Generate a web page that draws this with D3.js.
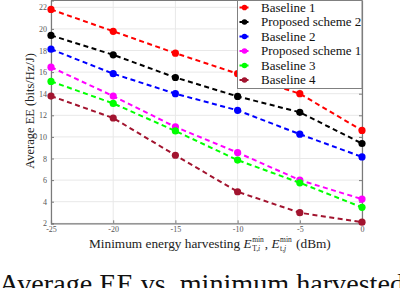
<!DOCTYPE html>
<html>
<head>
<meta charset="utf-8">
<script src="https://cdn.jsdelivr.net/npm/d3@7"></script>
<style>
  body { margin: 0; background: #fff; }
  svg { display: block; font-family: "Liberation Serif", serif; }
  text { white-space: pre; }
</style>
</head>
<body>
<script>
const xValues = [-25, -20, -15, -10, -5, 0];
const xTicks = [-25, -20, -15, -10, -5, 0];
const yTicks = [2, 4, 6, 8, 10, 12, 14, 16, 18, 20, 22];

const seriesNames = ['Baseline 1', 'Proposed scheme 2', 'Baseline 2', 'Proposed scheme 1', 'Baseline 3', 'Baseline 4'];
const seriesColors = ['#ff0000', '#000000', '#0000ff', '#ff00ff', '#00ff00', '#a2142f'];
const baseline1 = [21.8, 19.78, 17.75, 15.85, 14.0, 10.6];
const proposed2 = [19.4, 17.6, 15.5, 13.75, 12.28, 9.39];
const baseline2 = [18.12, 15.85, 14.0, 12.46, 10.25, 8.15];
const proposed1 = [16.46, 13.78, 10.92, 8.55, 6.0, 4.24];
const baseline3 = [15.14, 13.1, 10.55, 7.85, 5.75, 3.48];
const baseline4 = [13.78, 11.75, 8.3, 4.92, 2.98, 2.1];
const seriesValues = [baseline1, proposed2, baseline2, proposed1, baseline3, baseline4];

const w = 400, h = 288;
const mLeft = 51, mRight = 362, mTop = 0.5, mBottom = 223.3;

const svg = d3.select('body').append('svg').attr('width', w).attr('height', h);

const x = d3.scaleLinear().domain([-25, 0]).range([mLeft, mRight]);
const y = d3.scaleLinear().domain([2, 22.63]).range([mBottom, mTop]);

// grid
svg.append('g').selectAll('line').data(yTicks).enter().append('line')
  .attr('x1', mLeft).attr('x2', mRight)
  .attr('y1', d => y(d)).attr('y2', d => y(d))
  .attr('stroke', '#e8e8e8').attr('stroke-width', 1);
svg.append('g').selectAll('line').data(xTicks).enter().append('line')
  .attr('y1', mTop).attr('y2', mBottom)
  .attr('x1', d => x(d)).attr('x2', d => x(d))
  .attr('stroke', '#e8e8e8').attr('stroke-width', 1);

// axes
const axisColor = '#7a7a7a';
const yAxis = svg.append('g').attr('transform', `translate(${mLeft},0)`)
  .call(d3.axisLeft(y).tickValues(yTicks).tickSize(-3).tickPadding(4));
const yAxisR = svg.append('g').attr('transform', `translate(${mRight},0)`)
  .call(d3.axisRight(y).tickValues(yTicks).tickSize(-3).tickFormat(''));
const xAxis = svg.append('g').attr('transform', `translate(0,${mBottom})`)
  .call(d3.axisBottom(x).tickValues(xTicks).tickSize(-3).tickPadding(3.5));
svg.append('line').attr('x1', mLeft).attr('x2', mRight).attr('y1', mTop).attr('y2', mTop)
  .attr('stroke', axisColor);

[yAxis, yAxisR, xAxis].forEach(g => {
  g.select('.domain').attr('stroke', axisColor).attr('stroke-width', 1.2);
  g.selectAll('.tick line').attr('stroke', axisColor);
  g.selectAll('.tick text').attr('fill', '#555').style('font-family', '"Liberation Serif", serif').style('font-size', '8px');
});
xAxis.selectAll('.tick text').text(d => d === 0 ? '0' : '-' + Math.abs(d));

// series
const line = d3.line().x((d, i) => x(xValues[i])).y(d => y(d));
seriesValues.forEach((vals, k) => {
  svg.append('path').datum(vals)
    .attr('d', line)
    .attr('fill', 'none')
    .attr('stroke', seriesColors[k])
    .attr('stroke-width', 2)
    .attr('stroke-dasharray', '5,3.5');
  svg.append('g').selectAll('circle').data(vals).enter().append('circle')
    .attr('cx', (d, i) => x(xValues[i]))
    .attr('cy', d => y(d))
    .attr('r', 3.6)
    .attr('fill', seriesColors[k]);
});

// legend
const lg = svg.append('g');
lg.append('rect').attr('x', 237.5).attr('y', 0.5).attr('width', 124.5).attr('height', 88)
  .attr('fill', '#fff').attr('stroke', '#808080').attr('stroke-width', 1);
seriesNames.forEach((name, k) => {
  const yy = 7.5 + k * 14.5;
  lg.append('line').attr('x1', 239.5).attr('x2', 249.5).attr('y1', yy).attr('y2', yy)
    .attr('stroke', seriesColors[k]).attr('stroke-width', 2).attr('stroke-dasharray', '3.5,2');
  lg.append('circle').attr('cx', 244.5).attr('cy', yy).attr('r', 2.8).attr('fill', seriesColors[k]);
  lg.append('text').attr('x', 261).attr('y', yy + 4.3).text(name)
    .style('font-size', '13px').attr('fill', '#111');
});

// y label
svg.append('text')
  .attr('transform', 'translate(34,111) rotate(-90)')
  .attr('text-anchor', 'middle')
  .style('font-size', '12.5px').attr('fill', '#222')
  .text('Average EE (bits/Hz/J)');

// x label with math
const xl = svg.append('g').attr('fill', '#222');
let cx = 89;
const base = 247.5;
function piece(txt, size, dy, italic) {
  const t = xl.append('text').attr('x', cx).attr('y', base + dy)
    .style('font-size', size + 'px').style('font-style', italic ? 'italic' : 'normal').text(txt);
  return t.node().getComputedTextLength();
}
cx += piece('Minimum energy harvesting ', 13.3, 0, false);
cx += piece('E', 13.3, 0, true) + 0.5;
let sw = piece('min', 7.5, -5.5, false);
let bw = piece('T,', 7.5, 3.5, false);
let iw = xl.append('text').attr('x', cx + bw).attr('y', base + 3.5)
  .style('font-size', '7.5px').style('font-style', 'italic').text('i').node().getComputedTextLength();
cx += Math.max(sw, bw + iw) + 1;
cx += piece(', ', 13.3, 0, false);
cx += piece('E', 13.3, 0, true) + 0.5;
sw = piece('min', 7.5, -5.5, false);
bw = piece('t,', 7.5, 3.5, false);
const jw = xl.append('text').attr('x', cx + bw).attr('y', base + 3.5)
  .style('font-size', '7.5px').style('font-style', 'italic').text('j').node().getComputedTextLength();
cx += Math.max(sw, bw + jw) + 1;
piece(' (dBm)', 13.3, 0, false);

// caption
svg.append('text').attr('x', -1).attr('y', 293)
  .attr('textLength', 405).attr('lengthAdjust', 'spacingAndGlyphs')
  .style('font-size', '27px').attr('fill', '#111')
  .text('Average EE vs. minimum harvested');
</script>
</body>
</html>
